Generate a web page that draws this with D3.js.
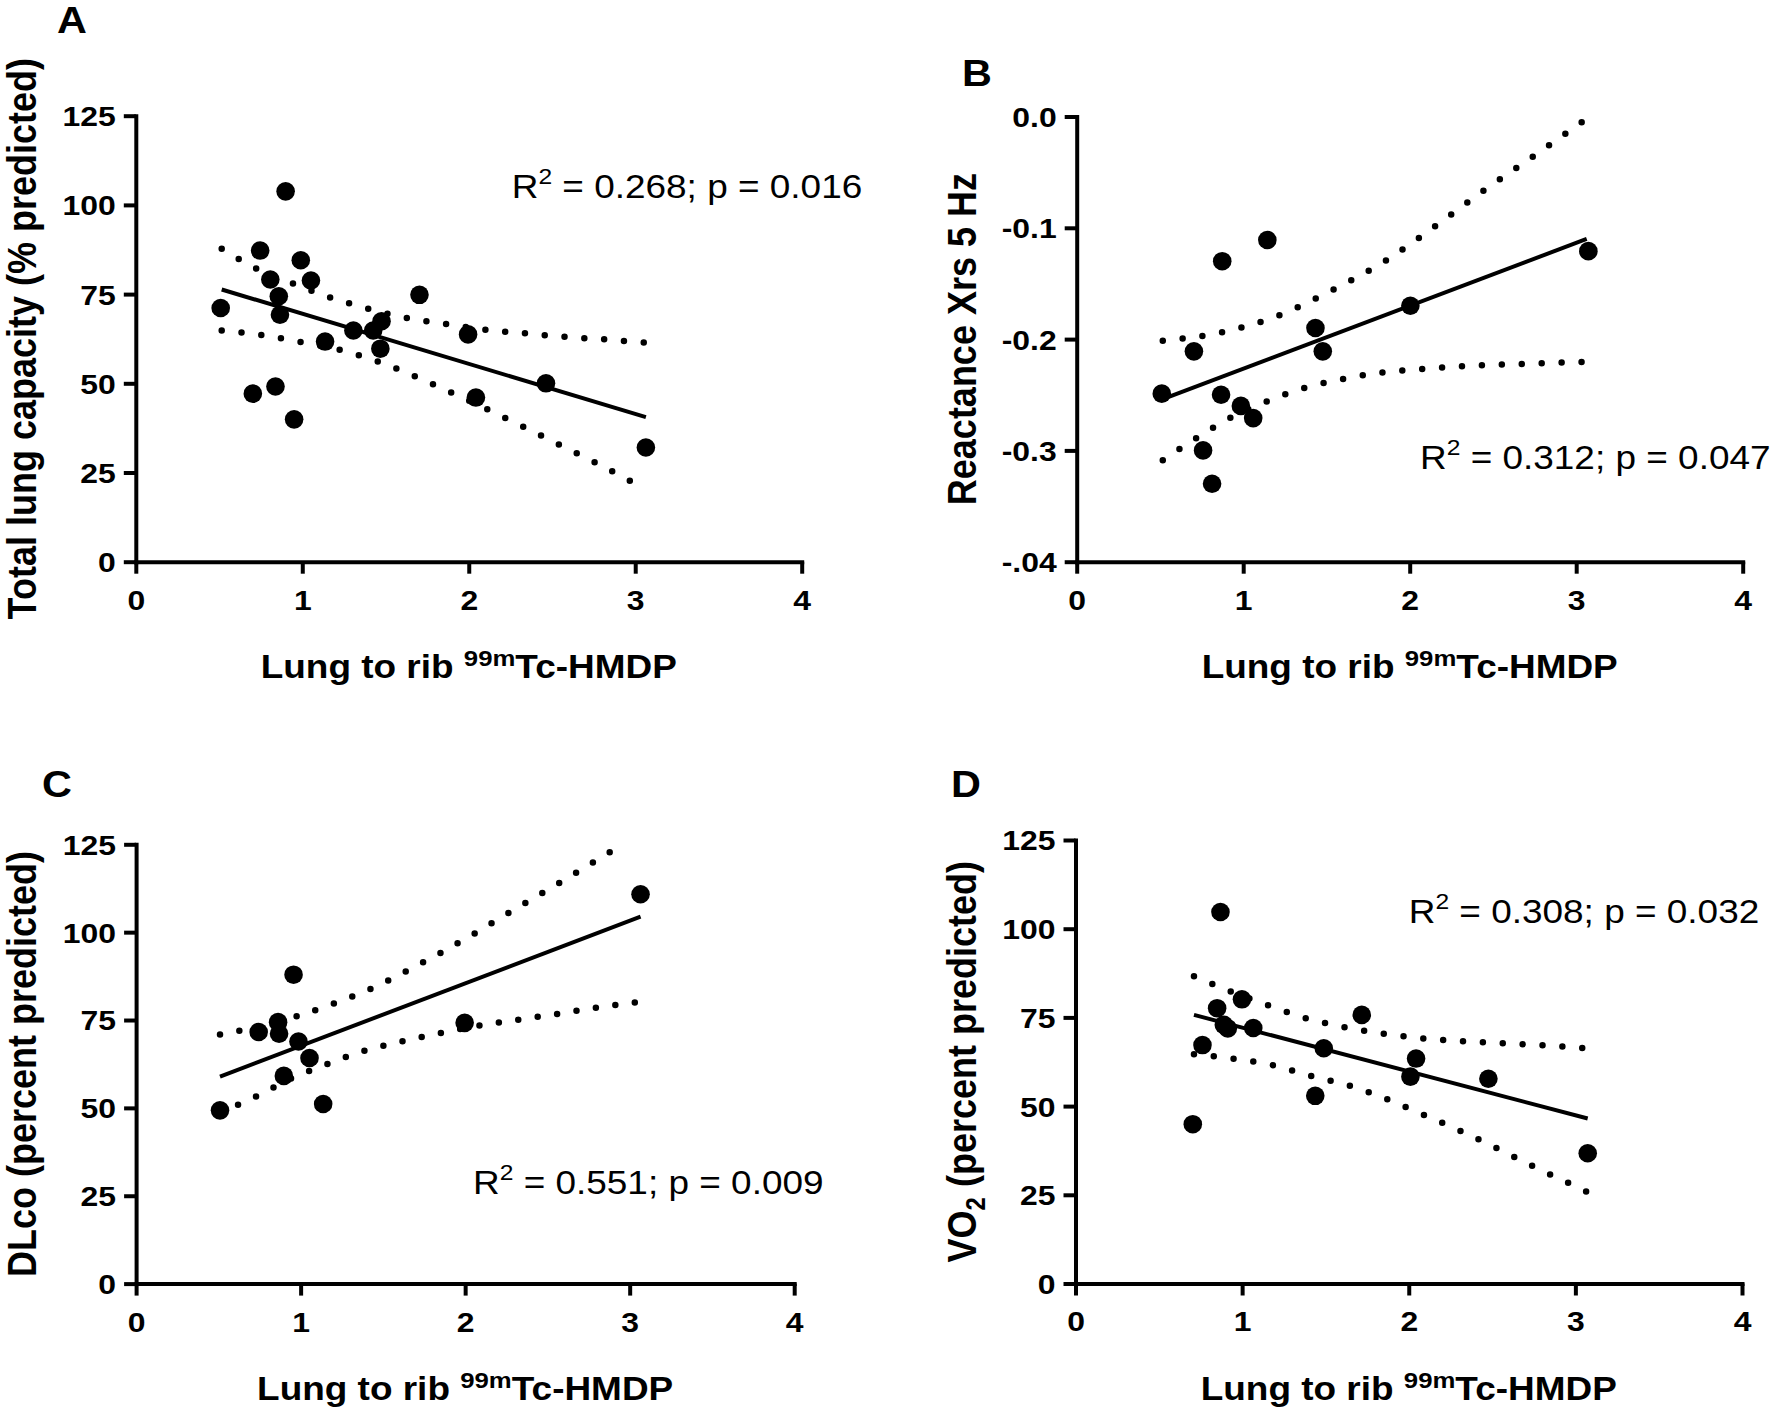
<!DOCTYPE html>
<html><head><meta charset="utf-8">
<script src="https://cdn.jsdelivr.net/npm/d3@7/dist/d3.min.js"></script>
<style>
html,body{margin:0;padding:0;background:#fff;}
svg{display:block;}
text{font-family:"Liberation Sans",Arial,Helvetica,sans-serif;fill:#000;}
</style></head><body>
<svg id="chart" width="1772" height="1414"></svg>
<script>
// ---------------- DATA ----------------
const xTicks = [0, 1, 2, 3, 4];
const yTicksPct = [0, 25, 50, 75, 100, 125];
const yTickLabelsPct = ["0", "25", "50", "75", "100", "125"];
const yTicksB = [0, -0.1, -0.2, -0.3, -0.4];
const yTickLabelsB = ["0.0", "-0.1", "-0.2", "-0.3", "-.04"];

const panelLetters = ["A", "B", "C", "D"];
const xTitle = ["Lung to rib ", "99m", "Tc-HMDP"];
const yTitles = ["Total lung capacity (% predicted)", "Reactance Xrs 5 Hz", "DLco (percent predicted)", "VO|2| (percent predicted)"];
const statTexts = [" = 0.268; p = 0.016", " = 0.312; p = 0.047", " = 0.551; p = 0.009", " = 0.308; p = 0.032"];

// Panel A: Total lung capacity
const aX = [0.51, 0.747, 0.90, 0.808, 0.859, 0.866, 0.991, 1.052, 0.703, 0.839, 0.951, 1.137, 1.307, 1.426, 1.476, 1.469, 1.704, 1.996, 2.043, 2.464, 3.064];
const aY = [71.1, 87.2, 103.8, 79.1, 74.4, 69.2, 84.5, 78.8, 47.1, 49.1, 39.9, 61.7, 64.8, 64.8, 67.4, 59.7, 74.8, 63.7, 46.0, 50.0, 32.0];
const aFit = [[0.516, 76.3], [3.064, 40.5]];
const aUpper = [[0.516, 87.7], [0.730, 82.0], [0.944, 78.0], [1.171, 74.0], [1.398, 70.9], [1.629, 68.3], [1.867, 66.6], [2.104, 65.0], [2.342, 64.0], [2.580, 63.0], [2.817, 62.3], [3.054, 61.4]];
const aLower = [[0.516, 64.8], [0.747, 63.6], [0.975, 61.7], [1.216, 59.5], [1.443, 56.3], [1.670, 52.1], [1.891, 47.5], [2.111, 42.7], [2.325, 37.9], [2.539, 32.9], [2.756, 27.9], [2.970, 22.6]];

// Panel B: Reactance
const bX = [0.511, 0.704, 0.874, 1.145, 0.867, 0.986, 1.060, 0.759, 0.813, 1.434, 1.478, 2.004, 3.073];
const bY = [-0.249, -0.211, -0.130, -0.111, -0.250, -0.260, -0.271, -0.300, -0.330, -0.190, -0.211, -0.170, -0.121];
const bFit = [[0.517, -0.254], [3.063, -0.110]];
const bUpper = [[0.517, -0.2014], [0.867, -0.1941], [1.207, -0.1791], [1.536, -0.156], [1.858, -0.1293], [2.146, -0.0993], [2.445, -0.0665], [2.740, -0.0361], [3.035, -0.0049]];
const bLower = [[0.517, -0.3088], [0.714, -0.2894], [0.918, -0.2711], [1.139, -0.2561], [1.366, -0.244], [1.597, -0.2359], [1.824, -0.2302], [2.072, -0.227], [2.309, -0.2245], [2.553, -0.2229], [2.791, -0.2217], [3.035, -0.2205]];

// Panel C: DLco
const cX = [0.510, 0.745, 0.863, 0.869, 0.957, 0.987, 1.054, 0.898, 1.137, 1.997, 3.066];
const cY = [49.3, 71.6, 74.4, 71.1, 87.9, 68.9, 64.2, 59.1, 51.1, 74.2, 110.8];
const cFit = [[0.510, 58.9], [3.066, 104.4]];
const cUpper = [[0.510, 70.9], [0.621, 71.9], [0.972, 76.0], [1.196, 79.6], [1.423, 83.8], [1.638, 88.8], [1.850, 94.1], [2.056, 99.6], [2.262, 105.4], [2.468, 111.1], [2.675, 116.9], [2.881, 122.8]];
const cLower = [[0.510, 48.8], [0.719, 53.0], [0.931, 58.1], [1.152, 62.3], [1.378, 66.1], [1.614, 68.9], [1.850, 71.3], [2.085, 73.4], [2.321, 75.1], [2.557, 76.7], [2.792, 78.5], [3.034, 80.0]];

// Panel D: VO2
const dX = [0.704, 0.762, 0.850, 0.870, 0.890, 0.914, 0.999, 1.067, 1.490, 1.439, 1.718, 2.010, 2.044, 2.478, 3.074];
const dY = [44.9, 67.2, 77.6, 104.7, 72.9, 71.9, 80.1, 72.0, 66.3, 52.9, 75.7, 58.3, 63.4, 57.7, 36.7];
const dFit = [[0.711, 75.7], [3.074, 46.5]];
const dUpper = [[0.711, 86.6], [0.925, 82.4], [1.156, 78.4], [1.379, 74.8], [1.610, 72.3], [1.847, 70.4], [2.084, 69.1], [2.322, 68.3], [2.559, 67.7], [2.796, 67.2], [3.044, 66.4]];
const dLower = [[0.711, 64.6], [0.938, 63.4], [1.186, 61.5], [1.413, 58.5], [1.650, 55.7], [1.871, 51.9], [2.091, 47.5], [2.311, 43.0], [2.525, 38.2], [2.739, 33.2], [2.955, 28.4], [3.067, 25.9]];

// ---------------- LAYOUT ----------------
const SX = 1.12; // the figure's text is horizontally stretched
const svg = d3.select("#chart");

const panels = [
  {xs: aX, ys: aY, fit: aFit, up: aUpper, lo: aLower, yDom: [0, 125], yT: yTicksPct, yL: yTickLabelsPct,
   x0: 135.8, x1: 801.7, yTop: 115.7, yBot: 561.7, letter: [57, 33], stat: [511.7, 198.3], yTitleX: 36},
  {xs: bX, ys: bY, fit: bFit, up: bUpper, lo: bLower, yDom: [-0.4, 0], yT: yTicksB, yL: yTickLabelsB,
   x0: 1076.7, x1: 1742.7, yTop: 116.5, yBot: 561.7, letter: [962, 86], stat: [1420, 469], yTitleX: 976},
  {xs: cX, ys: cY, fit: cFit, up: cUpper, lo: cLower, yDom: [0, 125], yT: yTicksPct, yL: yTickLabelsPct,
   x0: 136.1, x1: 794.2, yTop: 844.3, yBot: 1283.6, letter: [42, 797], stat: [473, 1194], yTitleX: 36},
  {xs: dX, ys: dY, fit: dFit, up: dUpper, lo: dLower, yDom: [0, 125], yT: yTicksPct, yL: yTickLabelsPct,
   x0: 1075.5, x1: 1742, yTop: 840, yBot: 1283.5, letter: [951, 797], stat: [1408.7, 922.5], yTitleX: 976}
];

function stext(g, x, y, size, weight, anchor) {
  return g.append("text")
    .attr("transform", `translate(${x},${y}) scale(${SX},1)`)
    .attr("font-size", size).attr("font-weight", weight)
    .attr("text-anchor", anchor);
}

panels.forEach((p, i) => {
  const g = svg.append("g");
  const x = d3.scaleLinear().domain([0, 4]).range([p.x0, p.x1]);
  const y = d3.scaleLinear().domain(p.yDom).range([p.yBot, p.yTop]);

  // confidence bands (dotted; spacing adjusted so a dot falls on both ends)
  const band = d3.line().x(d => x(d[0])).y(d => y(d[1])).curve(d3.curveMonotoneX);
  [p.up, p.lo].forEach(arr => {
    const path = g.append("path").attr("d", band(arr)).attr("fill", "none")
      .attr("stroke", "#000").attr("stroke-width", 6.5)
      .attr("stroke-linecap", "round");
    const L = path.node().getTotalLength();
    const n = Math.max(1, Math.round(L / 19.8));
    path.attr("stroke-dasharray", `0 ${(L - 0.5) / n}`);
  });
  // regression line
  g.append("path").attr("d", d3.line().x(d => x(d[0])).y(d => y(d[1]))(p.fit))
    .attr("fill", "none").attr("stroke", "#000").attr("stroke-width", 4);

  // points
  g.append("g").selectAll("circle").data(p.xs.map((v, k) => [v, p.ys[k]])).join("circle")
    .attr("cx", d => x(d[0])).attr("cy", d => y(d[1])).attr("r", 9.3).attr("fill", "#000");

  // axes
  const xa = g.append("g").attr("transform", `translate(0,${p.yBot})`)
    .call(d3.axisBottom(x).tickValues(xTicks).tickFormat(d3.format("d")).tickSize(12).tickSizeOuter(0));
  const ya = g.append("g").attr("transform", `translate(${p.x0},0)`)
    .call(d3.axisLeft(y).tickValues(p.yT).tickFormat((d, k) => p.yL[k]).tickSize(12).tickSizeOuter(0));
  [xa, ya].forEach(a => {
    a.attr("font-family", null);
    a.select(".domain").attr("stroke", "#000").attr("stroke-width", 4).attr("stroke-linecap", "square");
    a.selectAll(".tick line").attr("stroke", "#000").attr("stroke-width", 4);
    a.selectAll(".tick text").attr("font-size", 28.5).attr("font-weight", "bold").attr("fill", "#000");
  });
  xa.selectAll(".tick text").attr("y", 48).attr("dy", 0).attr("transform", `scale(${SX},1)`);
  ya.selectAll(".tick text").attr("x", -20 / SX).attr("dy", "0.35em").attr("transform", `scale(${SX},1)`);

  // panel letter
  stext(g, p.letter[0], p.letter[1], 37, "bold", "start").text(panelLetters[i]);

  // statistics text
  const st = stext(g, p.stat[0], p.stat[1], 33, "normal", "start");
  st.append("tspan").text("R");
  st.append("tspan").attr("font-size", 22).attr("dy", -14).text("2");
  st.append("tspan").attr("dy", 14).text(statTexts[i]);

  // x title
  const xt = stext(g, (p.x0 + p.x1) / 2, p.yBot + 116, 33, "bold", "middle");
  xt.append("tspan").text(xTitle[0]);
  xt.append("tspan").attr("font-size", 23).attr("dy", -12).text(xTitle[1]);
  xt.append("tspan").attr("dy", 12).text(xTitle[2]);

  // y title
  const yt = g.append("text")
    .attr("transform", `translate(${p.yTitleX},${(p.yTop + p.yBot) / 2}) scale(${SX},1) rotate(-90)`)
    .attr("font-size", 36).attr("font-weight", "bold").attr("text-anchor", "middle");
  const parts = yTitles[i].split("|");
  if (parts.length === 1) {
    yt.text(parts[0]);
  } else {
    yt.append("tspan").text(parts[0]);
    yt.append("tspan").attr("font-size", 24).attr("dy", 8).text(parts[1]);
    yt.append("tspan").attr("dy", -8).text(parts[2]);
  }
});
</script>
</body></html>
